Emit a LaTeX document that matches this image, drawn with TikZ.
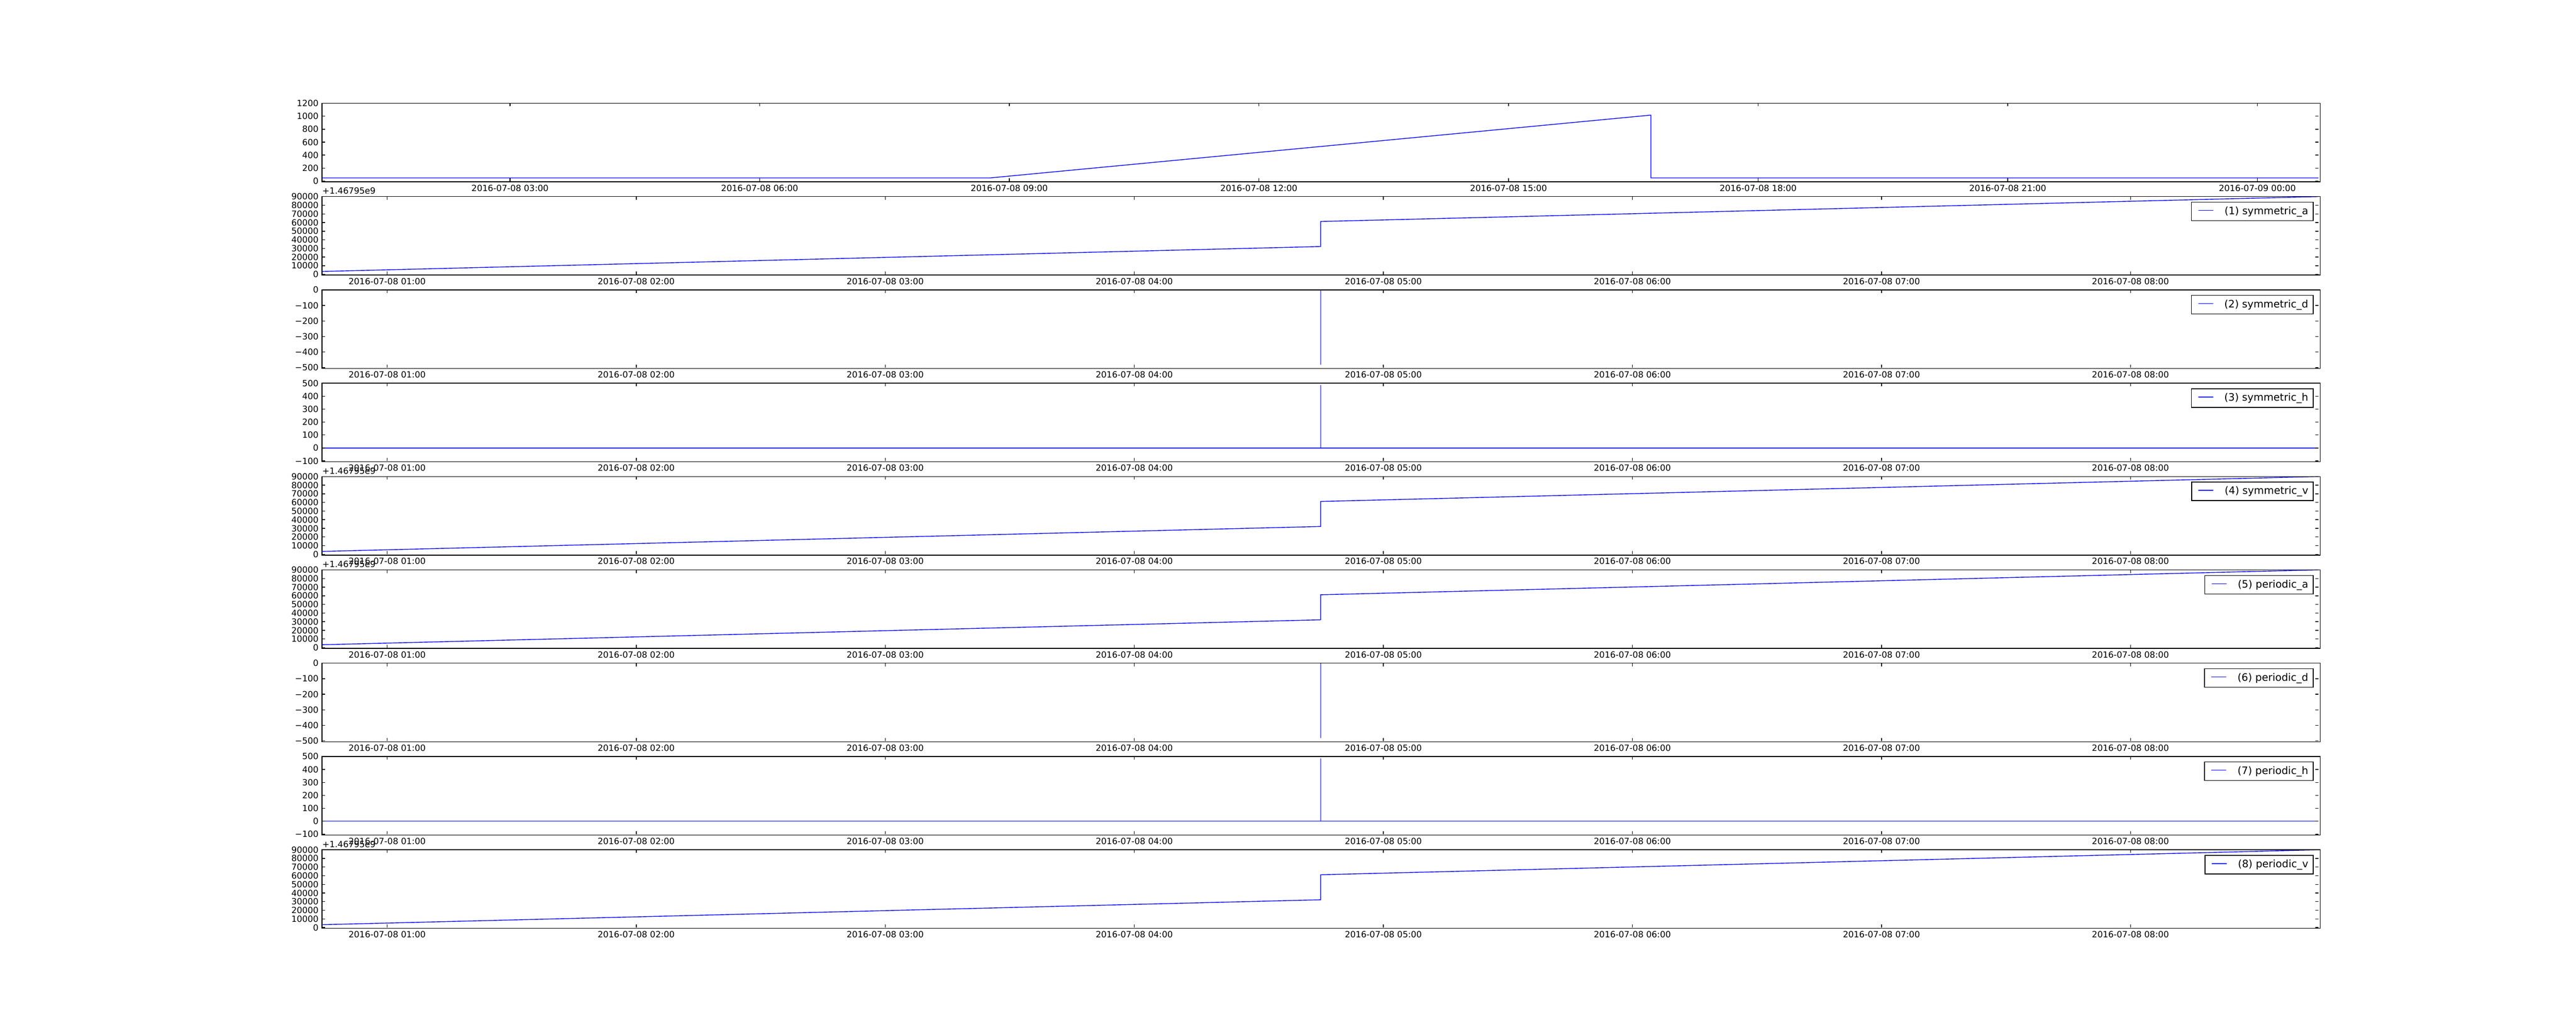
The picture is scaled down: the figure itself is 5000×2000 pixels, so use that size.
\documentclass[tikz,border=0pt]{standalone}
\usepackage{fontspec}
\setmainfont{DejaVu Sans}
\usetikzlibrary{calc,positioning}

\tikzset{
    axbox/.style={minimum width=38.75cm,minimum height=1.51cm,inner sep=0pt,anchor=north west},
    frame/.style={draw=black,line width=0.4pt},
    tickmark/.style={line width=0.4pt},
    series/.style={draw=blue,line width=0.4pt},
    ticklabel/.style={font=\fontsize{4.72}{5.6}\selectfont,inner sep=0pt},
    legbox/.style={draw=black,fill=white,line width=0.4pt,anchor=north east,inner xsep=0.095cm,inner ysep=0pt,
        text height=0.239cm,text depth=0.121cm,font=\fontsize{5.67}{6.8}\selectfont},
}

\begin{document}
\begin{tikzpicture}[x=0.01cm,y=-0.01cm]
    \useasboundingbox (0,0) rectangle (5000,2000);
    \foreach \i/\k/\name in {0/0/{},1/1/{(1) symmetric\_a},2/2/{(2) symmetric\_d},3/3/{(3) symmetric\_h},
            4/1/{(4) symmetric\_v},5/1/{(5) periodic\_a},6/2/{(6) periodic\_d},7/3/{(7) periodic\_h},8/1/{(8) periodic\_v}}{
        \pgfmathsetmacro\T{200.5+181.2*\i}
        \pgfmathsetmacro\B{\T+151}
        \node[axbox] (p\i) at (625,\T) {};
        \ifcase\k
            \draw[series] (625,\B-6) -- (1921.5,\B-6) -- (3204.4,\T+23) -- (3204.4,\B-6) -- (4500,\B-6);
            \def\ylabs{0,200,400,600,800,1000,1200}\def\ycnt{6}
        \or
            \draw[series] (625,\B-5.6) -- (2563.4,\B-54) -- (2563.4,\B-102.6) -- (4500,\T);
            \def\ylabs{0,10000,20000,30000,40000,50000,60000,70000,80000,90000}\def\ycnt{9}
        \or
            \draw[series] (625,\T) -- (2563.4,\T) -- (2563.4,\T+145.5) -- (2563.4,\T) -- (4500,\T);
            \def\ylabs{−500,−400,−300,−200,−100,0}\def\ycnt{5}
        \or
            \draw[series] (625,\B-25.2) -- (2563.4,\B-25.2) -- (2563.4,\T+3.6) -- (2563.4,\B-25.2) -- (4500,\B-25.2);
            \def\ylabs{−100,0,100,200,300,400,500}\def\ycnt{6}
        \fi
        \draw[frame] (p\i.north west) rectangle (p\i.south east);
        \foreach \lab [count=\n from 0] in \ylabs {
            \pgfmathsetmacro\yy{\B-\n*151/\ycnt}
            \draw[tickmark] (625,\yy) -- (631,\yy) (4500,\yy) -- (4494,\yy);
            \node[ticklabel,anchor=east] (yl\i-\n) at (619,\yy) {\lab};
        }
        \ifnum\k=0
            \foreach \lab [count=\n from 0] in {2016-07-08 03:00,2016-07-08 06:00,2016-07-08 09:00,2016-07-08 12:00,
                    2016-07-08 15:00,2016-07-08 18:00,2016-07-08 21:00,2016-07-09 00:00}{
                \pgfmathsetmacro\xx{990+484.5*\n}
                \draw[tickmark] (\xx,\T) -- (\xx,\T+6) (\xx,\B) -- (\xx,\B-6);
                \node[ticklabel,anchor=north] (xl\i-\n) at (\xx,\B+6.5) {\lab};
            }
        \else
            \foreach \h [count=\n from 0] in {1,...,8}{
                \pgfmathsetmacro\xx{751.4+483.4*\n}
                \draw[tickmark] (\xx,\T) -- (\xx,\T+6) (\xx,\B) -- (\xx,\B-6);
                \node[ticklabel,anchor=north] (xl\i-\n) at (\xx,\B+6.5) {2016-07-08 0\h:00};
            }
            \node[legbox] (leg\i) at (4490.5,\T+10) {\hspace*{0.545cm}\name};
            \draw[series] ($(leg\i.west)+(14,-2)$) -- ($(leg\i.west)+(43,-2)$);
        \fi
        \ifnum\k=1
            \node[ticklabel,anchor=south west] (off\i) at (625,\T-4) {+1.46795e9};
        \fi
    }
\end{tikzpicture}
\end{document}
